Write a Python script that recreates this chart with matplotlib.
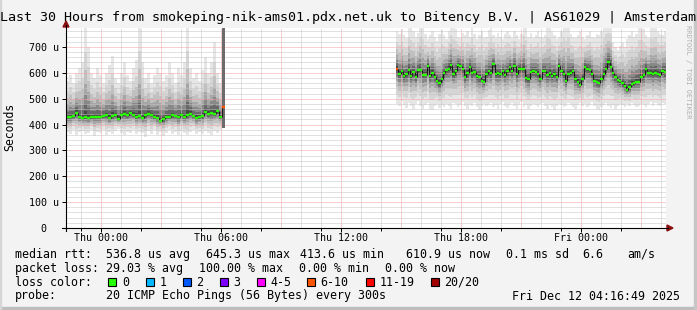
import numpy as np
import matplotlib.pyplot as plt
from matplotlib.patches import Rectangle, Polygon
from matplotlib.lines import Line2D

plt.rcParams['font.family'] = 'DejaVu Sans Mono'
plt.rcParams['lines.scale_dashes'] = False

# ------------------ Data (microseconds, hours from Thu 00:00) ------------------
t_left, t_right = -1.735, 28.265

# segment 1: Wed 22:18 -> Thu 06:05
seg1_start, seg1_step = -1.735, 0.15
med1 = [428, 430, 433, 446, 430, 425, 430, 425, 428, 430, 428, 430, 433, 436, 425, 433,
        438, 423, 436, 441, 436, 443, 438, 430, 433, 425, 436, 441, 438, 430, 425, 415,
        420, 428, 430, 436, 433, 428, 436, 430, 438, 441, 433, 425, 430, 433, 449, 441,
        443, 441, 451, 430]
hi1 = [570, 590, 560, 600, 620, 640, 780, 700, 600, 580, 620, 590, 560, 600, 630, 665,
       580, 560, 600, 640, 590, 570, 620, 650, 780, 640, 580, 600, 560, 590, 620, 600,
       570, 590, 640, 600, 560, 620, 590, 640, 780, 620, 580, 600, 570, 610, 660, 600,
       640, 720, 600, 560]
lo1 = [372, 365, 380, 358, 370, 376, 362, 368, 380, 355, 372, 366, 378, 360, 370, 364,
       375, 382, 368, 358, 372, 366, 380, 362, 371, 368, 350, 375, 364, 378, 360, 372,
       356, 368, 380, 364, 372, 360, 376, 366, 358, 372, 380, 364, 370, 362, 376, 368,
       360, 374, 366, 380]
# last sample before the outage (6-10 lost)
loss1_med, loss1_lo, loss1_hi = 469, 388, 800

# segment 2: Thu 14:46 -> Fri 04:16, first sample 6-10 lost
seg2_start, seg2_step = 14.765, 13.5 / 115
med2 = [616, 596, 608, 588, 596, 611, 588, 603, 585, 611, 611, 593, 593, 627, 588, 601,
        583, 570, 559, 575, 598, 611, 616, 629, 596, 606, 632, 627, 614, 583, 601, 624,
        598, 603, 588, 583, 570, 565, 596, 606, 598, 634, 596, 598, 596, 606, 593, 606,
        621, 606, 627, 596, 616, 616, 616, 580, 575, 603, 606, 603, 596, 578, 608, 606,
        590, 598, 588, 596, 583, 627, 608, 596, 567, 596, 601, 606, 575, 565, 554, 578,
        624, 616, 611, 596, 570, 565, 562, 575, 596, 616, 642, 624, 598, 585, 572, 567,
        559, 549, 534, 544, 557, 559, 565, 565, 583, 590, 616, 601, 598, 596, 601, 596,
        593, 608, 603]
hi2 = [760, 750, 770, 745, 735, 790, 780, 760, 740, 755,
       790, 785, 750, 730, 745, 760, 740, 725, 750, 765,
       745, 730, 760, 790, 785, 770, 740, 735, 755, 745,
       760, 740, 790, 750, 730, 745, 760, 735, 740, 765,
       790, 745, 735, 755, 740, 730, 750, 760, 745, 735,
       760, 745, 730, 750, 790, 785, 740, 755, 735, 745,
       760, 740, 735, 745, 790, 785, 760, 745, 730, 740,
       760, 790, 785, 790, 750, 740, 735, 745, 760, 740,
       730, 745, 760, 740, 735, 750, 745, 760, 790, 800,
       800, 800, 720, 700, 690, 705, 715, 700, 730, 745,
       760, 740, 750, 790, 785, 770, 745, 735, 790, 785,
       790, 760, 750, 745, 760]
lo2 = [480, 470, 490, 475, 465, 485, 470, 460, 478, 490,
       470, 462, 475, 485, 460, 455, 470, 480, 465, 475,
       468, 480, 472, 460, 485, 478, 466, 474, 488, 470,
       462, 476, 470, 484, 466, 458, 472, 480, 470, 476,
       482, 468, 474, 462, 478, 486, 470, 464, 476, 482,
       470, 460, 474, 486, 468, 476, 462, 470, 480, 474,
       466, 478, 484, 470, 462, 476, 468, 458, 472, 480,
       474, 466, 470, 482, 476, 468, 462, 474, 484, 470,
       478, 466, 474, 486, 470, 460, 456, 468, 476, 482,
       470, 464, 476, 462, 470, 480, 474, 466, 478, 470,
       484, 476, 468, 472, 480, 474, 466, 478, 486, 470,
       482, 476, 470, 484, 478]
seg2_first_loss = '6-10'

x_labels = ['Thu 00:00', 'Thu 06:00', 'Thu 12:00', 'Thu 18:00', 'Fri 00:00']
x_label_pos = [0, 6, 12, 18, 24]
y_ticks = [0, 100, 200, 300, 400, 500, 600, 700]
y_labels = ['0  ', '100 u', '200 u', '300 u', '400 u', '500 u', '600 u', '700 u']

loss_names = ['0', '1', '2', '3', '4-5', '6-10', '11-19', '20/20']
loss_colors = ['#26ff00', '#00b8ff', '#0059ff', '#7e00ff', '#ff00ff', '#ff5500', '#ff0000', '#a10000']

title = 'Last 30 Hours from smokeping-nik-ams01.pdx.net.uk to Bitency B.V. | AS61029 | Amsterdam'
row_rtt = [('median rtt:', 16), ('536.8 us avg', 107), ('645.3 us max', 207), ('413.6 us min', 300.5),
           ('610.9 us now', 407), ('0.1 ms sd', 507), ('6.6', 583), ('am/s', 628)]
row_loss = [('packet loss:', 16), ('29.03 % avg', 107), ('100.00 % max', 200),
            ('0.00 % min', 300), ('0.00 % now', 386)]
row_probe = [('probe:', 16), ('20 ICMP Echo Pings (56 Bytes) every 300s', 107),
             ('Fri Dec 12 04:16:49 2025', 513)]

# ------------------ Figure ------------------
W, H = 697, 310
BG = '#f3f3f3'
fig = plt.figure(figsize=(W / 100, H / 100), dpi=100, facecolor=BG)


def fx(x):
    return x / W


def fy(y):
    return 1 - y / H


# 3D frame
fig.patches.append(Rectangle((0, 0), 1, 3 / H, transform=fig.transFigure, color='#bdbdbd', zorder=0))
fig.patches.append(Rectangle((1 - 3 / W, 0), 3 / W, 1, transform=fig.transFigure, color='#c6c6c6', zorder=0))
fig.patches.append(Rectangle((0, 0), 1 / W, 1, transform=fig.transFigure, color='#d6d6d6', zorder=0))

ax = fig.add_axes([fx(66), fy(228), 600 / W, 200 / H])
ax.set_facecolor('white')
ax.set_xlim(t_left, t_right)
ax.set_ylim(0, 200 / 0.2586)
for s in ax.spines.values():
    s.set_visible(False)

# grid
dots = (0, (0.72, 0.72))
for h in range(-1, 29):
    ax.axvline(h, color='#c4c4c4' if h % 3 else '#f4a0a0', lw=0.72, ls=dots, zorder=3)
for v in range(20, 780, 20):
    ax.axhline(v, color='#c4c4c4' if v % 100 else '#f4a0a0', lw=0.72, ls=dots, zorder=3)

# smoke
fracs = [1.0, 0.72, 0.52, 0.36, 0.24, 0.14, 0.06]
greys = ['#e6e6e6', '#d5d5d5', '#c0c0c0', '#a6a6a6', '#888888', '#686868', '#464646']


def smoke(t, med, hi, lo, step):
    med, hi, lo = np.asarray(med, float), np.asarray(hi, float), np.asarray(lo, float)
    for f, c in zip(fracs, greys):
        top = med + (hi - med) * f
        bot = med - (med - lo) * f
        ax.bar(t, top - bot, bottom=bot, width=step, align='edge', color=c,
               linewidth=0, antialiased=False, zorder=2)


def median(t, med, step, colors):
    med = np.asarray(med, float)
    ax.vlines(t[1:], med[:-1], med[1:], color='#1c1c1c', lw=0.8, zorder=5)
    ax.hlines(med, t, t + step, colors=colors, lw=1.7, zorder=6)


t1 = seg1_start + seg1_step * np.arange(len(med1))
smoke(t1, med1, hi1, lo1, seg1_step)
t_loss = seg1_start + seg1_step * len(med1)
ax.bar([t_loss], [loss1_hi - loss1_lo], bottom=[loss1_lo], width=seg1_step, align='edge',
       color='#6c6c6c', linewidth=0, antialiased=False, zorder=4)
median(np.append(t1, t_loss), med1 + [loss1_med], seg1_step,
       [loss_colors[0]] * len(med1) + [loss_colors[5]])

t2 = seg2_start + seg2_step * np.arange(len(med2))
smoke(t2, med2, hi2, lo2, seg2_step)
c2 = [loss_colors[0]] * len(med2)
c2[0] = loss_colors[loss_names.index(seg2_first_loss)]
median(t2, med2, seg2_step, c2)

# ticks
ax.set_yticks(y_ticks)
ax.set_yticklabels(y_labels)
ax.set_xticks(x_label_pos)
ax.set_xticklabels(x_labels)
ax.set_xticks(range(-1, 29, 3), minor=True)
ax.tick_params(axis='y', length=3, width=0.72, pad=2.2, labelsize=7.2, colors='black')
ax.tick_params(axis='x', which='major', length=3, width=0.72, pad=0.6, labelsize=7.2)
ax.tick_params(axis='x', which='minor', length=2, width=0.72)

# axis lines with arrows
fig.add_artist(Line2D([fx(66), fx(66)], [fy(231), fy(25)], color='black', lw=0.8))
fig.add_artist(Line2D([fx(62), fx(668)], [fy(228), fy(228)], color='black', lw=0.8))
arrow_c = '#8b1010'
fig.add_artist(Polygon([(fx(63), fy(27)), (fx(69), fy(27)), (fx(66), fy(21))], closed=True,
                       transform=fig.transFigure, color=arrow_c))
fig.add_artist(Polygon([(fx(667), fy(225)), (fx(667), fy(231)), (fx(673), fy(228))], closed=True,
                       transform=fig.transFigure, color=arrow_c))

# texts
fig.text(fx(0.5), fy(17), title, fontsize=9.6, ha='left', va='center')
fig.text(fx(10), fy(127), 'Seconds', fontsize=8.3, rotation=90, ha='center', va='center')
fig.text(fx(688), fy(72), 'RRDTOOL / TOBI OETIKER', fontsize=5.0, rotation=270,
         ha='center', va='center', color='#b0b0b0')

for row, y in [(row_rtt, 254.3), (row_loss, 268.7), (row_probe, 296)]:
    for s, x in row:
        fig.text(fx(x - 0.7), fy(y), s, fontsize=8.4, ha='left', va='center')

fig.text(fx(15.3), fy(282), 'loss color:', fontsize=8.4, ha='left', va='center')
box_x = [108.3, 145.7, 182.7, 220, 256.7, 306.7, 365.7, 431]
for bx, name, col in zip(box_x, loss_names, loss_colors):
    fig.patches.append(Rectangle((fx(bx), fy(286)), 8 / W, 8 / H, transform=fig.transFigure,
                                 facecolor=col, edgecolor='black', lw=0.8))
    fig.text(fx(bx + 13.5), fy(282), name, fontsize=8.4, ha='left', va='center')

fig.savefig('out.png', dpi=100, facecolor=BG)
